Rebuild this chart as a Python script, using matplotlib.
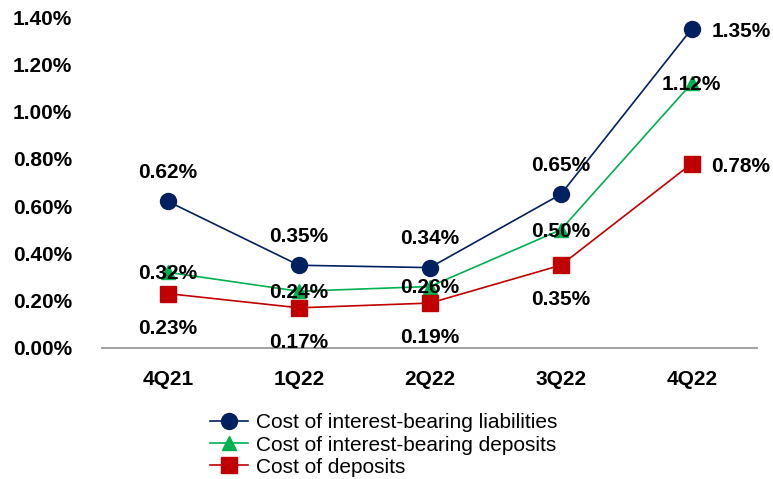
#!/usr/bin/env python3
import matplotlib
matplotlib.use("Agg")
import matplotlib.pyplot as plt

# data
quarters = ["4Q21", "1Q22", "2Q22", "3Q22", "4Q22"]
liabilities = [0.62, 0.35, 0.34, 0.65, 1.35]
ib_deposits = [0.32, 0.24, 0.26, 0.50, 1.12]
deposits = [0.23, 0.17, 0.19, 0.35, 0.78]
y_ticks = [0.0, 0.2, 0.4, 0.6, 0.8, 1.0, 1.2, 1.4]

# where each data label goes: "up", "mid", "down", "right"
liab_pos = ["up", "up", "up", "up", "right"]
ibd_pos = ["mid", "mid", "mid", "mid", "mid"]
dep_pos = ["down", "down", "down", "down", "right"]

plt.rcParams["font.family"] = ["Liberation Sans", "DejaVu Sans"]

NAVY = "#002060"
GREEN = "#00B050"
RED = "#C00000"
FS = 15


def add_labels(ax, xs, ys, places):
    for x, y, p in zip(xs, ys, places):
        txt = "%.2f%%" % y
        if p == "up":
            off, ha, va = (0, 21), "center", "center"
        elif p == "down":
            off, ha, va = (0, -25), "center", "center"
        elif p == "right":
            off, ha, va = (14, -2), "left", "center"
        else:
            off, ha, va = (0, -1), "center", "center"
        ax.annotate(txt, (x, y), xytext=off, textcoords="offset points",
                    ha=ha, va=va, fontsize=FS, fontweight="bold", color="black")


def main():
    fig = plt.figure(figsize=(7.73, 4.79), dpi=100)
    ax = fig.add_axes([0.1326, 0.2735, 0.847, 0.691])
    xs = list(range(len(quarters)))

    ax.plot(xs, liabilities, color=NAVY, lw=1.2, marker="o", ms=11.5,
            label="Cost of interest-bearing liabilities")
    ax.plot(xs, ib_deposits, color=GREEN, lw=1.2, marker="^", ms=10,
            label="Cost of interest-bearing deposits")
    ax.plot(xs, deposits, color=RED, lw=1.2, marker="s", ms=11,
            label="Cost of deposits")

    add_labels(ax, xs, liabilities, liab_pos)
    add_labels(ax, xs, ib_deposits, ibd_pos)
    add_labels(ax, xs, deposits, dep_pos)

    ax.set_xlim(-0.5, len(quarters) - 0.5)
    ax.set_ylim(0, 1.4)
    ax.set_yticks(y_ticks)
    ax.set_yticklabels(["%.2f%%" % t for t in y_ticks], fontsize=FS, fontweight="bold")
    ax.set_xticks(xs)
    ax.set_xticklabels(quarters, fontsize=FS, fontweight="bold")
    ax.tick_params(axis="both", length=0)
    ax.tick_params(axis="y", pad=22)
    ax.tick_params(axis="x", pad=16)
    for s in ["top", "right", "left"]:
        ax.spines[s].set_visible(False)
    ax.spines["bottom"].set_color("#999999")
    ax.spines["bottom"].set_linewidth(1.3)

    ax.legend(loc="upper left", bbox_to_anchor=(0.2717, 0.137), bbox_transform=fig.transFigure,
              frameon=False, fontsize=FS, handlelength=1.8, handletextpad=0.43,
              labelspacing=0.15, borderpad=0, borderaxespad=0)

    fig.savefig("out.png", dpi=100)


if __name__ == "__main__":
    main()
